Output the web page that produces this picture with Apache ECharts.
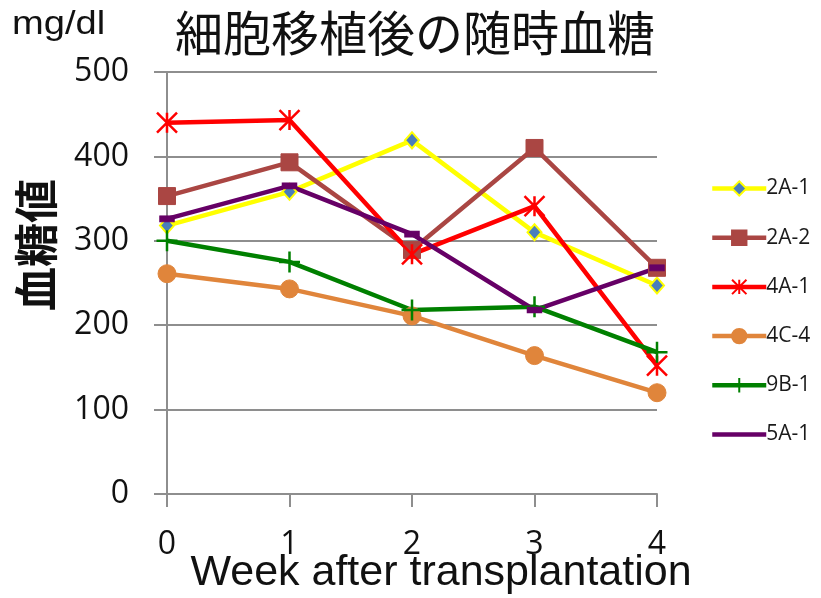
<!DOCTYPE html>
<html>
<head>
<meta charset="utf-8">
<script src="https://cdn.jsdelivr.net/npm/echarts@6/dist/echarts.min.js"></script>
<style>
  html, body { margin: 0; padding: 0; background: #ffffff; }
  #chart { width: 821px; height: 598px; }
</style>
</head>
<body>
<div id="chart"></div>
<script>
// Weeks after transplantation
const weeks = ['0', '1', '2', '3', '4'];

// Random blood glucose (mg/dl) per animal
const s2A1 = [318, 358, 419, 310, 247];
const s2A2 = [353, 393, 289, 410, 268];
const s4A1 = [440, 443, 284, 341, 152];
const s4C4 = [261, 243, 211, 164, 120];
const s9B1 = [300, 275, 218, 222, 168];
const s5A1 = [326, 365, 308, 218, 268];

const seriesNames = ['2A-1', '2A-2', '4A-1', '4C-4', '9B-1', '5A-1'];
const yTicks = [0, 100, 200, 300, 400, 500];

const chartTitle = '細胞移植後の随時血糖';
const unitLabel = 'mg/dl';
const yAxisTitle = '血糖値';
const xAxisTitle = 'Week after transplantation';

const ASTERISK = 'path://M0,0 L10,10 M10,0 L0,10 M5,0 L5,10';
const PLUS = 'path://M5,0 L5,10 M0,5 L10,5';

const AXIS_GRAY = '#8e8e8e';
const LATIN = '"Open Sans", "Noto Sans", sans-serif';
const ARIAL = '"Liberation Sans", Arial, sans-serif';
const CJK = '"Noto Sans CJK JP", sans-serif';

function lineSeries(name, data, lineColor, symbol, symbolSize, itemStyle) {
  return {
    name: name,
    type: 'line',
    data: data,
    symbol: symbol,
    symbolSize: symbolSize,
    showAllSymbol: true,
    lineStyle: { color: lineColor, width: 4.5 },
    itemStyle: itemStyle,
    emphasis: { disabled: true },
    animation: false
  };
}

const legendData = seriesNames.map(function (n) {
  // the 5A-1 key is drawn as a plain line
  if (n === '5A-1') {
    return { name: n, itemStyle: { color: 'rgba(0,0,0,0)', borderColor: 'rgba(0,0,0,0)', borderWidth: 0 } };
  }
  return { name: n };
});

const chart = echarts.init(document.getElementById('chart'), null, { renderer: 'canvas' });

chart.setOption({
  backgroundColor: '#ffffff',
  animation: false,
  grid: { left: 167, right: 164, top: 72, bottom: 104, containLabel: false },
  xAxis: {
    type: 'category',
    data: weeks,
    boundaryGap: false,
    axisLine: { lineStyle: { color: AXIS_GRAY, width: 2 } },
    axisTick: { show: true, length: 13, lineStyle: { color: AXIS_GRAY, width: 2 } },
    axisLabel: { fontSize: 32, color: '#111', fontFamily: LATIN, margin: 35 },
    splitLine: { show: false }
  },
  yAxis: {
    type: 'value',
    min: yTicks[0],
    max: yTicks[yTicks.length - 1],
    interval: 100,
    axisLine: { show: true, lineStyle: { color: AXIS_GRAY, width: 2 } },
    axisTick: { show: true, length: 13, lineStyle: { color: AXIS_GRAY, width: 2 } },
    axisLabel: { fontSize: 32, color: '#111', fontFamily: LATIN, margin: 38 },
    splitLine: { show: true, lineStyle: { color: AXIS_GRAY, width: 2 } }
  },
  legend: {
    orient: 'vertical',
    left: 705,
    top: 173,
    itemWidth: 54,
    itemHeight: 18,
    itemGap: 28.2,
    data: legendData,
    lineStyle: { width: 4.5 },
    textStyle: { fontSize: 21, color: '#1a1a1a', fontFamily: LATIN, padding: [0, 0, 0, -5] },
    selectedMode: false
  },
  graphic: [
    {
      type: 'text', x: 12, y: 8, scaleX: 1.12,
      style: { text: unitLabel, fontSize: 34, fontFamily: ARIAL, fill: '#111' }
    },
    {
      type: 'text', x: 415, y: 33,
      style: { text: chartTitle, fontSize: 48, fontFamily: CJK, fill: '#111', align: 'center', verticalAlign: 'middle' }
    },
    {
      type: 'text', x: 36, y: 245, rotation: Math.PI / 2,
      style: { text: yAxisTitle, fontSize: 44, fontWeight: 'bold', fontFamily: CJK, fill: '#111', align: 'center', verticalAlign: 'middle' }
    },
    {
      type: 'text', x: 441, y: 573,
      style: { text: xAxisTitle, fontSize: 43, fontFamily: ARIAL, fill: '#111', align: 'center', verticalAlign: 'middle' }
    }
  ],
  series: [
    lineSeries('2A-1', s2A1, '#ffff00', 'diamond', [14, 16],
      { color: '#4a7ebb', borderColor: '#ffff00', borderWidth: 2 }),
    lineSeries('2A-2', s2A2, '#aa4643', 'rect', 17,
      { color: '#aa4643', borderColor: '#aa4643', borderWidth: 1 }),
    lineSeries('4A-1', s4A1, '#ff0000', ASTERISK, 20,
      { color: '#ff0000', borderColor: '#ff0000', borderWidth: 2.5 }),
    lineSeries('4C-4', s4C4, '#e0853b', 'circle', 18,
      { color: '#e0853b', borderColor: '#e0853b', borderWidth: 1 }),
    lineSeries('9B-1', s9B1, '#008000', PLUS, 21,
      { color: '#008000', borderColor: '#008000', borderWidth: 2.5 }),
    lineSeries('5A-1', s5A1, '#660066', 'rect', [14, 6],
      { color: '#660066', borderColor: '#660066', borderWidth: 1 })
  ]
});
</script>
</body>
</html>
